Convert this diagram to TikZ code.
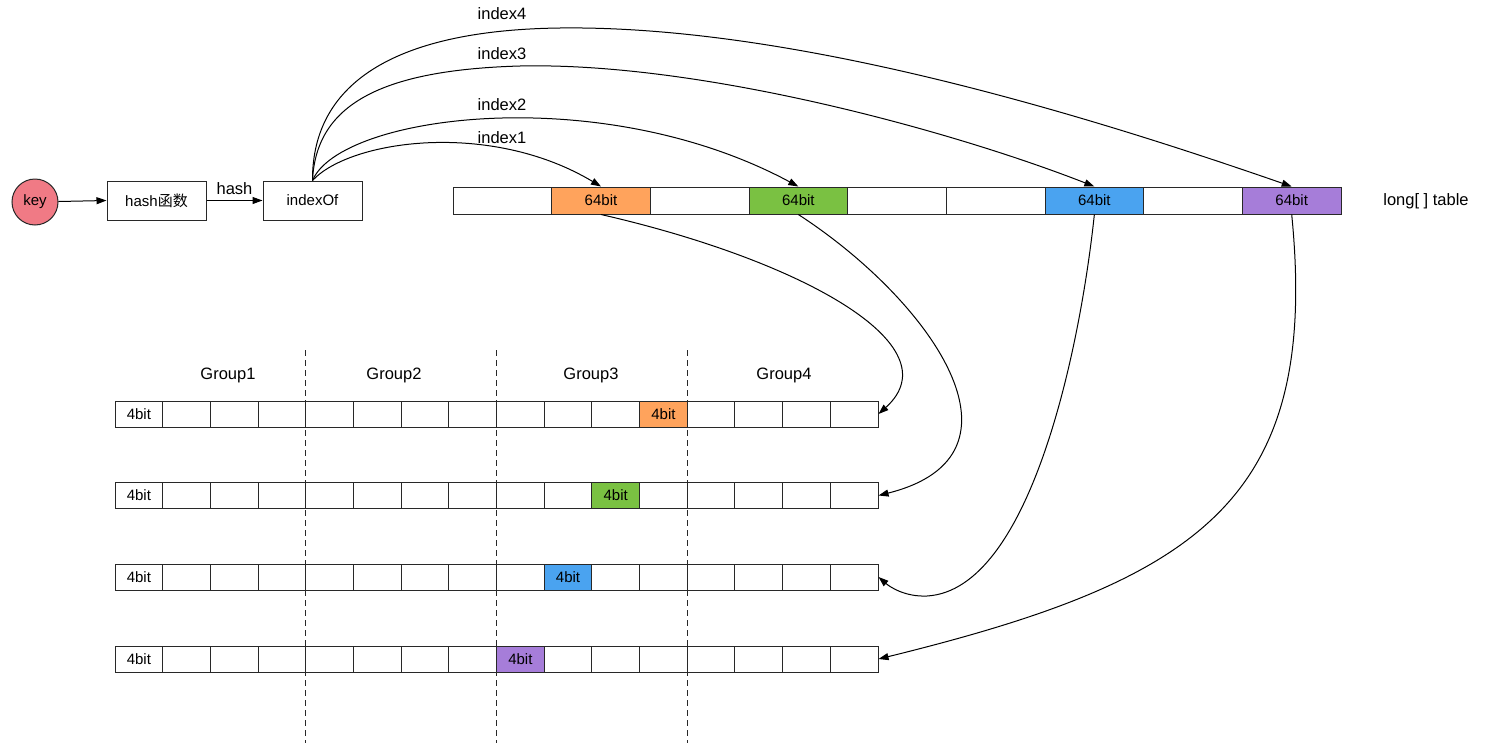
\documentclass[tikz,border=0pt]{standalone}
\usepackage{fontspec}
\setmainfont{Liberation Sans}
\newfontfamily\cjk{Noto Sans CJK SC}
\usetikzlibrary{arrows.meta}
\definecolor{cOrange}{RGB}{255,163,92}
\definecolor{cGreen}{RGB}{122,193,66}
\definecolor{cBlue}{RGB}{74,163,240}
\definecolor{cPurple}{RGB}{166,125,217}
\definecolor{cKey}{RGB}{240,122,133}
\definecolor{cLine}{RGB}{40,40,40}
\begin{document}
\begin{tikzpicture}[x=1pt,y=-1pt,line width=1pt,
  cell/.style={draw=cLine, minimum height=26pt, inner sep=0pt, font=\fontsize{15}{17}\selectfont},
  tcell/.style={cell, minimum width=98.67pt, minimum height=27pt},
  bcell/.style={cell, minimum width=47.69pt},
  box/.style={draw=cLine, minimum width=99pt, minimum height=39pt, inner sep=0pt, font=\fontsize{15}{17}\selectfont},
  lbl/.style={inner sep=0pt, font=\fontsize{16.5}{18}\selectfont},
  arr/.style={draw=black, line width=1pt, -{Triangle[length=10pt,width=7pt]}},
  grp/.style={draw=cLine, line width=0.9pt, dash pattern=on 6pt off 4pt}]
\path[fill=white, use as bounding box] (0,0) rectangle (1500,755);

% key and boxes
\node[circle, draw=cLine, fill=cKey, minimum size=46pt, inner sep=0pt, font=\fontsize{15}{17}\selectfont] (key) at (35,202) {key};
\node[box] (hf) at (156.5,200.5) {hash{\cjk 函数}};
\node[box] (idx) at (312.5,200.5) {indexOf};
\draw[arr] (key) -- (hf.west);
\draw[arr] (hf) -- node[lbl, above=5pt] (hashlbl) {hash} (idx);

% top table
\foreach \i/\col/\txt in {1/white/,2/cOrange/64bit,3/white/,4/cGreen/64bit,5/white/,6/white/,7/cBlue/64bit,8/white/,9/cPurple/64bit}{
  \pgfmathsetmacro\cx{453+98.67*(\i-0.5)}
  \node[tcell, fill=\col] (t\i) at (\cx,200.5) {\txt};
}
\node[lbl] (tbl) at (1426,201) {long[ ] table};

% bottom rows
\foreach \r/\y/\k/\col in {1/414/12/cOrange,2/495.5/11/cGreen,3/577/10/cBlue,4/659/9/cPurple}{
  \foreach \c in {1,...,16}{
    \pgfmathsetmacro\cx{115+47.69*(\c-0.5)}
    \node[bcell] (r\r c\c) at (\cx,\y) {};
  }
  \node[bcell] (r\r first) at (r\r c1) {4bit};
  \node[bcell, fill=\col] (r\r hit) at (r\r c\k) {4bit};
}

% group separators and labels
\foreach \gx in {305,496,687}{
  \draw[grp] (\gx,350) -- (\gx,743);
}
\node[lbl] (g1) at (228,375) {Group1};
\node[lbl] (g2) at (394,375) {Group2};
\node[lbl] (g3) at (591,375) {Group3};
\node[lbl] (g4) at (784,375) {Group4};

% index arcs
\node[lbl] (i4) at (502,14) {index4};
\node[lbl] (i3) at (502,54) {index3};
\node[lbl] (i2) at (502,105) {index2};
\node[lbl] (i1) at (502,138) {index1};
\draw[arr] (idx.north) .. controls (350,140) and (490,120) .. (t2.north);
\draw[arr] (idx.north) .. controls (340,115) and (600,80) .. (t4.north);
\draw[arr] (idx.north) .. controls (316,105) and (380,70) .. (520,66) .. controls (700,62) and (950,130) .. (t7.north);
\draw[arr] (idx.north) .. controls (312,80) and (400,30) .. (560,28) .. controls (800,25) and (1100,120) .. (t9.north);

% table to rows
\coordinate (bluelow) at (927,596);
\draw[arr] (t2.south) .. controls (800,260) and (955,345) .. (r1c16.east);
\draw[arr] (t4.south) .. controls (930,300) and (1040,455) .. (r2c16.east);
\draw[arr] (t7.south) .. controls (1080,350) and (1030,590) .. (bluelow) .. controls (905,597) and (890,587) .. (r3c16.east);
\draw[arr] (t9.south) .. controls (1320,500) and (1200,580) .. (r4c16.east);
\end{tikzpicture}
\end{document}
